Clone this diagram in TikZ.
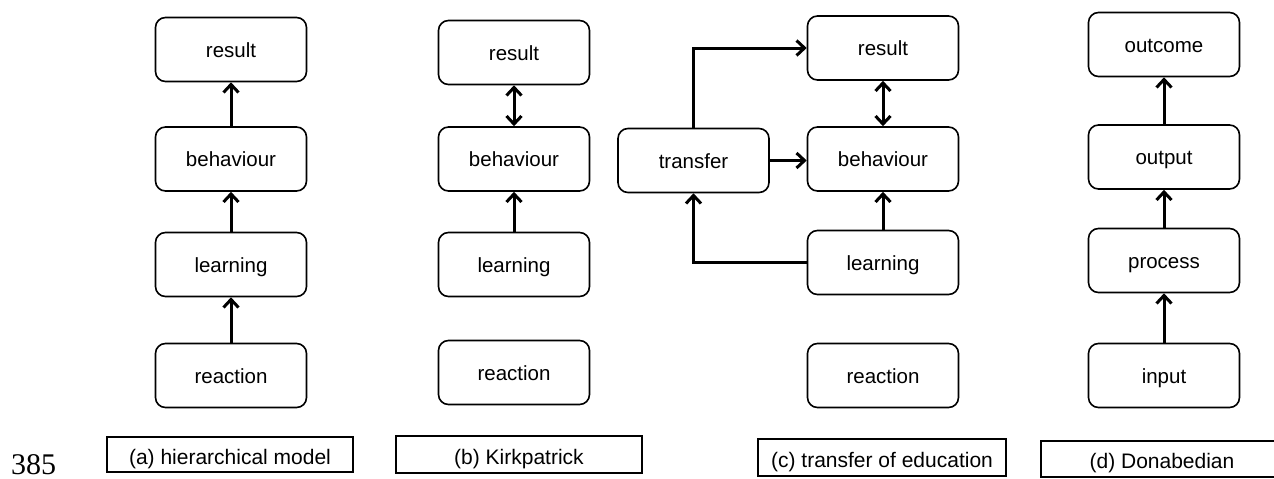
\documentclass[tikz,border=0pt]{standalone}
\usepackage{fontspec}
\setmainfont{Liberation Sans}
\newfontfamily\pagenumfont{Liberation Serif}
\usetikzlibrary{arrows.meta}
\begin{document}
\begin{tikzpicture}[x=1pt,y=-1pt,
  box/.style={draw, line width=1.6pt, rounded corners=10pt, minimum width=151pt, minimum height=64pt, inner sep=0pt, text height=17pt, text depth=2pt, font=\fontsize{20.5}{24}\selectfont},
  capbox/.style={draw, line width=1.6pt, inner sep=0pt, text height=19pt, text depth=0pt, font=\fontsize{21}{25}\selectfont},
  tipb/.tip={Straight Barb[length=8pt,width=15pt]},
  arr/.style={line width=3pt, -tipb},
  darr/.style={line width=3pt, tipb-tipb}]
\useasboundingbox (0,0) rectangle (1274,479);
\clip (0,0) rectangle (1274,479);
% (a) hierarchical model
\node[box] (a4) at (231,49.5) {result};
\node[box] (a3) at (231,159) {behaviour};
\node[box] (a2) at (231,264.5) {learning};
\node[box] (a1) at (231,375.5) {reaction};
\draw[arr] (a1) -- (a2);
\draw[arr] (a2) -- (a3);
\draw[arr] (a3) -- (a4);
% (b) Kirkpatrick
\node[box] (b4) at (514,52.5) {result};
\node[box] (b3) at (514,159) {behaviour};
\node[box] (b2) at (514,264.5) {learning};
\node[box] (b1) at (514,372.5) {reaction};
\draw[arr] (b2) -- (b3);
\draw[darr] (b3) -- (b4);
% (c) transfer of education
\node[box] (c4) at (883,48) {result};
\node[box] (c3) at (883,159) {behaviour};
\node[box] (c2) at (883,262.5) {learning};
\node[box] (c1) at (883,375.5) {reaction};
\node[box] (tr) at (693.5,160.5) {transfer};
\draw[arr] (c2) -- (c3);
\draw[darr] (c3) -- (c4);
\draw[arr] (tr.north) |- (c4.west);
\draw[arr] (c2.west) -| (tr.south);
\draw[arr] (tr.east) -- (tr.east -| c3.west);
% (d) Donabedian
\node[box] (d4) at (1164,44.5) {outcome};
\node[box] (d3) at (1164,157) {output};
\node[box] (d2) at (1164,260.5) {process};
\node[box] (d1) at (1164,375.5) {input};
\draw[arr] (d1) -- (d2);
\draw[arr] (d2) -- (d3);
\draw[arr] (d3) -- (d4);
% captions
\node[capbox, minimum width=246pt, minimum height=35pt] (capa) at (230,454.5) {(a) hierarchical model};
\node[capbox, minimum width=246pt, minimum height=37pt] (capb) at (519,454.5) {(b) Kirkpatrick};
\node[capbox, minimum width=248pt, minimum height=37pt] (capc) at (882,457.5) {(c) transfer of education};
\node[capbox, minimum width=242pt, minimum height=36pt] (capd) at (1162,459) {(d) Donabedian};
\node[anchor=base west, inner sep=0pt, font=\pagenumfont\fontsize{30}{30}\selectfont] (pg) at (11,474) {385};
\end{tikzpicture}
\end{document}
